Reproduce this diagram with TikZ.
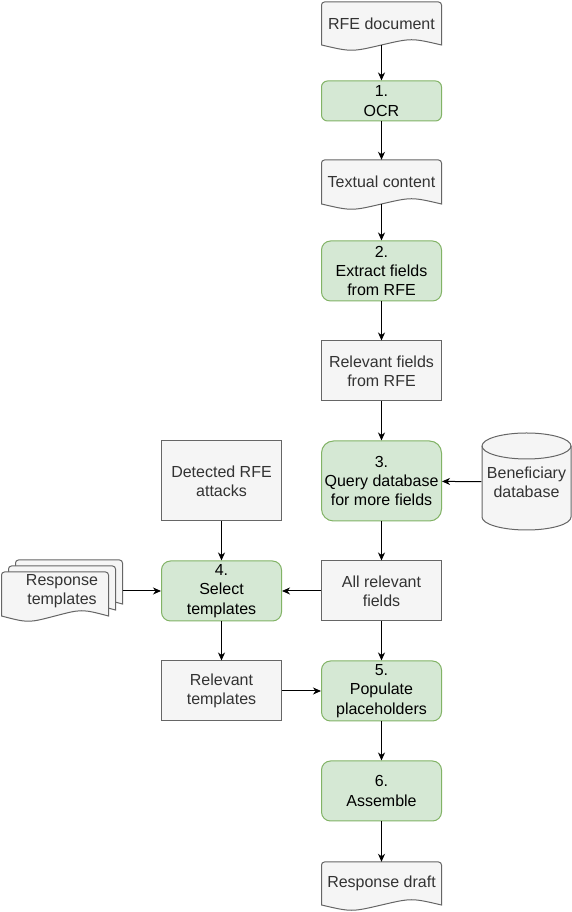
\documentclass[tikz,border=0pt]{standalone}
\usepackage{fontspec}
\setmainfont{Liberation Sans}
\usetikzlibrary{arrows.meta,backgrounds,calc}
\definecolor{gfill}{HTML}{D5E8D4}
\definecolor{gline}{HTML}{82B366}
\definecolor{kfill}{HTML}{F5F5F5}
\definecolor{kline}{HTML}{666666}
\definecolor{ktext}{HTML}{333333}
\newcommand\docxy[4]{%
  \path[docline] (#1,#4) -- (#1,#3-3) arc[start angle=180,end angle=90,radius=3]
    -- (#2-3,#3) arc[start angle=90,end angle=0,radius=3] -- (#2,#4)
    .. controls ({#2-(#2-#1)/4},#4+7) .. ({(#1+#2)/2},#4)
    .. controls ({#1+(#2-#1)/4},#4-7) .. (#1,#4) -- cycle;}
\tikzset{
  basefont/.style={font=\fontsize{16}{19.2}\selectfont},
  greenbox/.style={basefont, draw=gline, fill=gfill, line width=1pt, text=black,
    minimum width=120, minimum height=60, align=center, inner sep=1pt},
  greybox/.style={basefont, draw=kline, fill=kfill, line width=1pt, text=ktext,
    minimum width=120, minimum height=60, align=center, inner sep=1pt},
  doctext/.style={basefont, text=ktext, align=center, inner sep=1pt},
  docline/.style={draw=kline, fill=kfill, line width=1pt},
  arr/.style={draw=black, line width=1pt, -{Stealth[length=8pt,width=7pt,inset=2.5pt]}},
}
\begin{document}
\begin{tikzpicture}[x=1pt,y=1pt]
\useasboundingbox (0,0) rectangle (572,912);

% document-like text nodes
\node[doctext, minimum width=120, minimum height=43] (rfe) at (381.5,888.5) {RFE document};
\node[doctext, minimum width=120, minimum height=44] (textual) at (381.5,730) {Textual content};
\node[doctext, minimum width=120, minimum height=43] (draft) at (381.5,28.5) {Response draft};
\node[doctext, minimum width=121, minimum height=40] (resp) at (62,321) {Response\\templates};
\node[doctext, minimum width=90, minimum height=97] (benef) at (526.5,430) {Beneficiary\\database};

% process boxes
\node[greenbox, minimum height=40, rounded corners=6] (ocr) at (381.5,811) {1.\\OCR};
\node[greenbox, rounded corners=9] (extract) at (381.5,641) {2.\\Extract fields\\from RFE};
\node[greybox] (relf) at (381.5,541) {Relevant fields\\from RFE};
\node[greenbox, minimum height=80, rounded corners=12] (query) at (381.5,431) {3.\\Query database\\for more fields};
\node[greybox, minimum height=80] (detected) at (221.5,431) {Detected RFE\\attacks};
\node[greenbox, rounded corners=9] (select) at (221.5,321) {4.\\Select\\templates};
\node[greybox] (allrel) at (381.5,321) {All relevant\\fields};
\node[greybox] (reltem) at (221.5,221) {Relevant\\templates};
\node[greenbox, rounded corners=9] (populate) at (381.5,221) {5.\\Populate\\placeholders};
\node[greenbox, rounded corners=9] (assemble) at (381.5,121) {6.\\Assemble};

\begin{scope}[on background layer]
  \fill[white] (0,0) rectangle (572,912);
  \docxy{321.5}{441.5}{910}{867}
  \docxy{321.5}{441.5}{752}{708}
  \docxy{321.5}{441.5}{50}{7}
  % multi document
  \docxy{15.5}{122.5}{352}{308}
  \docxy{8.5}{115.5}{346}{302}
  \docxy{1.5}{108.5}{340}{296}
  % cylinder
  \path[docline] (482,466) -- (482,395)
     arc[start angle=180,end angle=360,x radius=44.5,y radius=13]
     -- (571,466) arc[start angle=0,end angle=180,x radius=44.5,y radius=13] -- cycle;
  \draw[kline, line width=1pt] (482,466) arc[start angle=180,end angle=360,x radius=44.5,y radius=13];
\end{scope}

% connectors
\draw[arr] (rfe) -- (ocr);
\draw[arr] (ocr) -- (textual);
\draw[arr] (textual) -- (extract);
\draw[arr] (extract) -- (relf);
\draw[arr] (relf) -- (query);
\draw[arr] (benef) -- (query);
\draw[arr] (query) -- (allrel);
\draw[arr] (detected) -- (select);
\draw[arr] (allrel) -- (select);
\draw[arr] (resp) -- (select);
\draw[arr] (select) -- (reltem);
\draw[arr] (allrel) -- (populate);
\draw[arr] (reltem) -- (populate);
\draw[arr] (populate) -- (assemble);
\draw[arr] (assemble) -- (draft);
\end{tikzpicture}
\end{document}
